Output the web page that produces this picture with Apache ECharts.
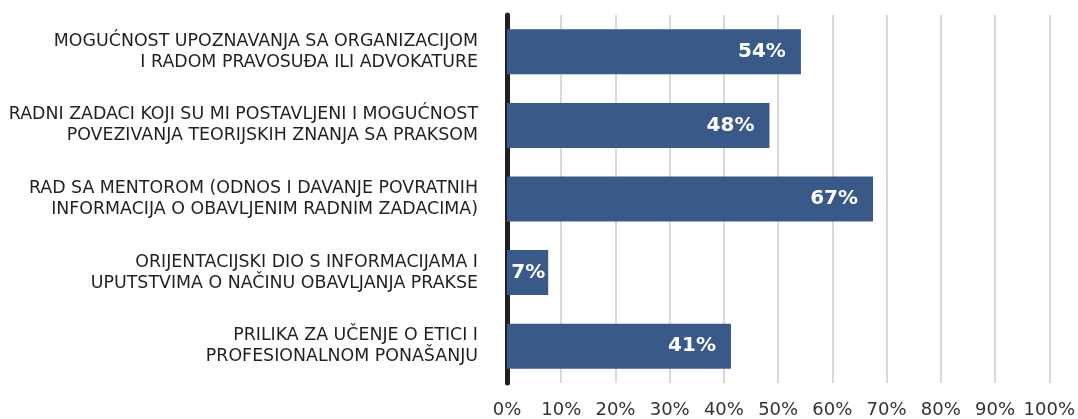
<!DOCTYPE html>
<html>
<head>
<meta charset="utf-8">
<script src="https://cdn.jsdelivr.net/npm/echarts@6/dist/echarts.min.js"></script>
<style>
  html, body { margin: 0; padding: 0; background: #fff; }
  #chart { width: 1078px; height: 419px; }
</style>
</head>
<body>
<div id="chart"></div>
<script>
const categories = [
  'MOGUĆNOST UPOZNAVANJA SA ORGANIZACIJOM\nI RADOM PRAVOSUĐA ILI ADVOKATURE',
  'RADNI ZADACI KOJI SU MI POSTAVLJENI I MOGUĆNOST\nPOVEZIVANJA TEORIJSKIH ZNANJA SA PRAKSOM',
  'RAD SA MENTOROM (ODNOS I DAVANJE POVRATNIH\nINFORMACIJA O OBAVLJENIM RADNIM ZADACIMA)',
  'ORIJENTACIJSKI DIO S INFORMACIJAMA I\nUPUTSTVIMA O NAČINU OBAVLJANJA PRAKSE',
  'PRILIKA ZA UČENJE O ETICI I\nPROFESIONALNOM PONAŠANJU'
]
const values = [54.2, 48.4, 67.5, 7.6, 41.3]
const valueLabels = ['54%', '48%', '67%', '7%', '41%']

const font = '"DejaVu Sans", "Noto Sans", sans-serif'

const chart = echarts.init(document.getElementById('chart'))

chart.setOption({
  animation: false,
  backgroundColor: '#ffffff',
  grid: {
    left: 507,
    right: 26,
    top: 15,
    height: 370,
    containLabel: false,
  },
  xAxis: {
    type: 'value',
    min: 0,
    max: 100,
    interval: 10,
    axisLine: { show: false },
    axisTick: { show: false },
    axisLabel: {
      formatter: '{value}%',
      color: '#333333',
      fontFamily: font,
      fontSize: 18,
      margin: 18,
    },
    splitLine: {
      lineStyle: { color: '#d9d9d9', width: 2 },
    },
  },
  yAxis: {
    type: 'category',
    inverse: true,
    data: categories,
    axisTick: { show: false },
    axisLine: {
      show: true,
      lineStyle: { color: '#231f20', width: 5 },
    },
    axisLabel: {
      color: '#231f20',
      fontFamily: font,
      fontSize: 17.4,
      lineHeight: 21,
      align: 'right',
      margin: 29,
    },
  },
  series: [
    {
      type: 'bar',
      data: values.map((v, i) => ({
        value: v,
        label: v < 10 ? { distance: 3 } : {},
      })),
      barWidth: 45,
      itemStyle: { color: '#395a88' },
      label: {
        show: true,
        position: 'insideRight',
        distance: 15,
        formatter: (p) => valueLabels[p.dataIndex],
        color: '#ffffff',
        fontFamily: font,
        fontWeight: 'bold',
        fontSize: 20,
      },
    },
  ],
})
</script>
</body>
</html>
